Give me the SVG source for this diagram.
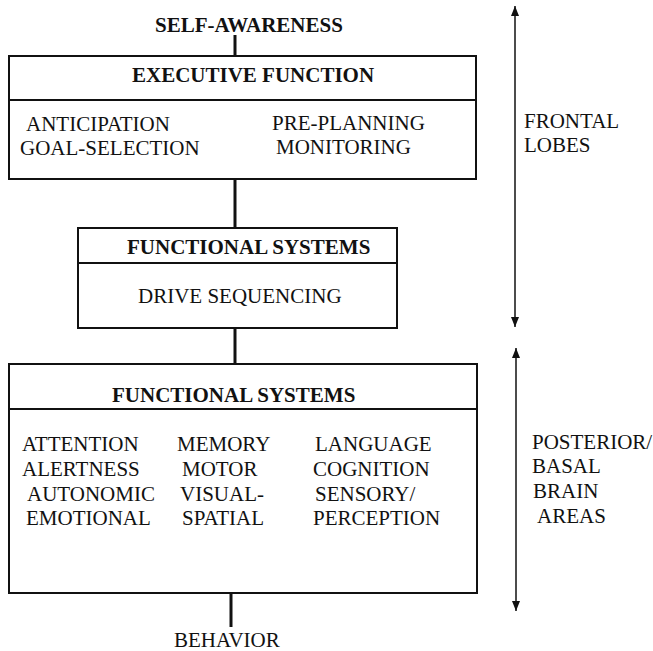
<svg xmlns="http://www.w3.org/2000/svg" width="653" height="651" viewBox="0 0 653 651">
  <style>
    text { font-family: "Liberation Serif", "Times New Roman", serif; font-size: 21px; fill: #111; }
    .head { font-weight: bold; }
    .box { fill: none; stroke: #111; stroke-width: 2; }
    .div { stroke: #111; stroke-width: 2; }
    .link { stroke: #111; stroke-width: 3; }
    .span { stroke: #111; stroke-width: 1.5; }
  </style>
  <defs>
    <marker id="tip" viewBox="0 0 10 8" refX="10" refY="4" markerWidth="10" markerHeight="8" markerUnits="userSpaceOnUse" orient="auto">
      <path d="M0,0 L10,4 L0,8 Z" fill="#111"/>
    </marker>
  </defs>

  <rect width="653" height="651" fill="#fff"/>

  <!-- connectors between the levels -->
  <g id="connectors">
    <line class="link" x1="235" y1="35" x2="235" y2="56"/>
    <line class="link" x1="235" y1="179" x2="235" y2="228"/>
    <line class="link" x1="235" y1="328" x2="235" y2="364"/>
    <line class="link" x1="231" y1="593" x2="231" y2="627"/>
  </g>

  <g id="self-awareness">
    <text class="head" x="155" y="32">SELF-AWARENESS</text>
  </g>

  <g id="executive-function">
    <rect class="box" x="9" y="56" width="467" height="123"/>
    <line class="div" x1="9" y1="100" x2="476" y2="100"/>
    <text class="head" x="132" y="82">EXECUTIVE FUNCTION</text>
    <text x="26" y="131">ANTICIPATION</text>
    <text x="20" y="155">GOAL-SELECTION</text>
    <text x="272" y="130">PRE-PLANNING</text>
    <text x="276" y="154">MONITORING</text>
  </g>

  <g id="functional-systems-drive">
    <rect class="box" x="78" y="228" width="319" height="100"/>
    <line class="div" x1="78" y1="263" x2="397" y2="263"/>
    <text class="head" x="127" y="254">FUNCTIONAL SYSTEMS</text>
    <text x="138" y="303">DRIVE SEQUENCING</text>
  </g>

  <g id="functional-systems-basal">
    <rect class="box" x="9" y="364" width="468" height="229"/>
    <line class="div" x1="9" y1="409" x2="477" y2="409"/>
    <text class="head" x="112" y="402">FUNCTIONAL SYSTEMS</text>
    <text x="22" y="451">ATTENTION</text>
    <text x="22" y="476">ALERTNESS</text>
    <text x="27" y="501">AUTONOMIC</text>
    <text x="26" y="525">EMOTIONAL</text>
    <text x="177" y="451">MEMORY</text>
    <text x="182" y="476">MOTOR</text>
    <text x="180" y="501">VISUAL-</text>
    <text x="182" y="525">SPATIAL</text>
    <text x="315" y="451">LANGUAGE</text>
    <text x="313" y="476">COGNITION</text>
    <text x="315" y="501">SENSORY/</text>
    <text x="313" y="525">PERCEPTION</text>
  </g>

  <g id="behavior">
    <text x="174" y="647">BEHAVIOR</text>
  </g>

  <!-- brain-region spans on the right -->
  <g id="frontal-lobes">
    <line class="span" x1="515" y1="17" x2="515" y2="6" marker-end="url(#tip)"/>
    <line class="span" x1="515" y1="17" x2="515" y2="327" marker-end="url(#tip)"/>
    <text x="524" y="128">FRONTAL</text>
    <text x="524" y="152">LOBES</text>
  </g>

  <g id="posterior-basal">
    <line class="span" x1="516" y1="360" x2="516" y2="348" marker-end="url(#tip)"/>
    <line class="span" x1="516" y1="360" x2="516" y2="611" marker-end="url(#tip)"/>
    <text x="532" y="449">POSTERIOR/</text>
    <text x="532" y="473">BASAL</text>
    <text x="533" y="498">BRAIN</text>
    <text x="537" y="523">AREAS</text>
  </g>
</svg>
